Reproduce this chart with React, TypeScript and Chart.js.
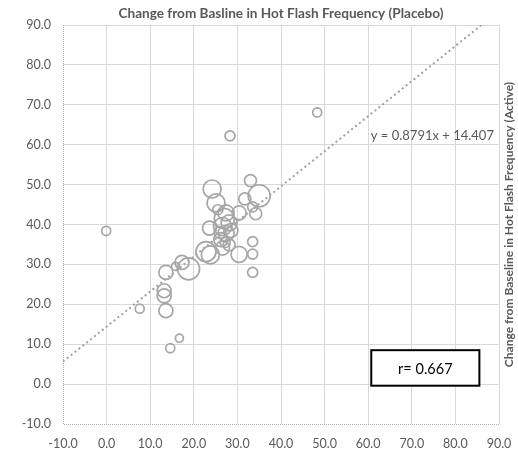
import React, { useEffect, useRef } from "react";
import { Chart, registerables } from "chart.js";

Chart.register(...registerables);

// Change from baseline in hot flash frequency
const placeboChange = [
  -0.1, 7.6, 14.6, 16.7, 13.6, 13.2, 13.2, 13.6, 15.8, 17.3,
  18.8, 22.8, 23.8, 30.4, 33.5, 33.5, 33.5, 28.3, 48.3, 33.0,
  24.2, 25.1, 31.7, 35.0, 33.5, 34.2, 30.4, 25.5, 27.4, 23.6,
  26.6, 28.1, 27.4, 26.2, 26.6, 28.1, 27.0, 26.0, 28.5, 27.2,
];
const activeChange = [
  38.4, 18.9, 9.0, 11.5, 18.4, 22.1, 23.4, 28.0, 29.5, 30.5,
  28.9, 33.2, 32.4, 32.5, 35.7, 32.6, 28.0, 62.2, 68.1, 51.0,
  48.9, 45.4, 46.4, 47.2, 44.4, 42.7, 42.9, 43.7, 42.9, 39.1,
  39.5, 40.4, 37.8, 36.2, 34.1, 34.9, 41.5, 38.0, 38.5, 35.5,
];
const bubbleSize = [
  4.5, 4.5, 4.5, 4, 7, 7, 7, 7, 4, 7,
  11, 10, 9, 8, 5, 5, 5, 5, 4.5, 6,
  9, 9, 6, 11, 5, 6, 7, 5, 8, 7,
  9, 8, 8, 7, 7, 6, 10, 6, 7, 5,
];

const axisTicks = [-10, 0, 10, 20, 30, 40, 50, 60, 70, 80, 90];
const trendSlope = 0.8791;
const trendIntercept = 14.407;
const rValue = "0.667";

const titleText = "Change from Basline in Hot Flash Frequency (Placebo)";
const yTitleText = "Change from Baseline in Hot Flash Frequency (Active)";

const FONT = "Lato, 'Open Sans', sans-serif";
const GREY_TEXT = "#595959";

export default function App() {
  const ref = useRef<HTMLCanvasElement | null>(null);

  useEffect(() => {
    if (!ref.current) return;
    const minV = axisTicks[0];
    const maxV = axisTicks[axisTicks.length - 1];
    const trendEndX = (maxV - trendIntercept) / trendSlope;
    const bubbles = placeboChange.map((x, i) => ({
      x,
      y: activeChange[i],
      r: bubbleSize[i],
    }));

    const axisLinePlugin = {
      id: "axisLines",
      beforeDatasetsDraw(chart: any) {
        const { ctx, chartArea } = chart;
        ctx.save();
        ctx.strokeStyle = "#b0b0b0";
        ctx.lineWidth = 1;
        ctx.setLineDash([1, 1]);
        ctx.beginPath();
        ctx.moveTo(chartArea.left + 0.5, chartArea.top);
        ctx.lineTo(chartArea.left + 0.5, chartArea.bottom + 0.5);
        ctx.lineTo(chartArea.right, chartArea.bottom + 0.5);
        ctx.stroke();
        ctx.restore();
      },
    };

    const textPlugin = {
      id: "texts",
      afterDraw(chart: any) {
        const { ctx, chartArea, scales } = chart;
        ctx.save();
        // top title
        ctx.fillStyle = GREY_TEXT;
        ctx.font = `bold 13.6px ${FONT}`;
        ctx.textAlign = "center";
        ctx.textBaseline = "middle";
        ctx.fillText(titleText, (chartArea.left + chartArea.right) / 2, 14);
        // right side title
        ctx.font = `bold 12px ${FONT}`;
        ctx.save();
        ctx.translate(509, (chartArea.top + chartArea.bottom) / 2);
        ctx.rotate(-Math.PI / 2);
        ctx.fillText(yTitleText, 0, 0);
        ctx.restore();
        // equation
        ctx.font = `13px ${FONT}`;
        ctx.textAlign = "left";
        const eq = `y = ${trendSlope}x + ${trendIntercept}`;
        ctx.fillText(eq, scales.x.getPixelForValue(60.6), scales.y.getPixelForValue(62.3));
        // r box
        const bx1 = scales.x.getPixelForValue(60.7);
        const bx2 = scales.x.getPixelForValue(85.5);
        const by1 = scales.y.getPixelForValue(8.5);
        const by2 = scales.y.getPixelForValue(-0.4);
        ctx.fillStyle = "#ffffff";
        ctx.fillRect(bx1, by1, bx2 - bx1, by2 - by1);
        ctx.strokeStyle = "#000000";
        ctx.lineWidth = 2;
        ctx.strokeRect(bx1, by1, bx2 - bx1, by2 - by1);
        ctx.fillStyle = "#000000";
        ctx.font = `14.5px ${FONT}`;
        ctx.textAlign = "center";
        ctx.fillText(`r= ${rValue}`, (bx1 + bx2) / 2, (by1 + by2) / 2 + 1);
        ctx.restore();
      },
    };

    const gridColor = (c: any) =>
      c.tick && c.tick.value === minV ? "rgba(0,0,0,0)" : "#d9d9d9";

    const chart = new Chart(ref.current, {
      type: "bubble",
      data: {
        datasets: [
          {
            type: "bubble",
            data: bubbles,
            borderColor: "#a6a6a6",
            backgroundColor: "rgba(0,0,0,0)",
            borderWidth: 1.7,
          } as any,
          {
            type: "line",
            data: [
              { x: minV, y: trendSlope * minV + trendIntercept },
              { x: trendEndX, y: maxV },
            ],
            borderColor: "#a0a0a0",
            borderWidth: 2,
            borderDash: [2, 3],
            pointRadius: 0,
            fill: false,
          } as any,
        ],
      },
      options: {
        responsive: false,
        animation: false,
        layout: { padding: { top: 25, right: 19, left: 0, bottom: 0 } },
        plugins: {
          legend: { display: false },
          tooltip: { enabled: false },
          title: { display: false },
        },
        scales: {
          x: {
            type: "linear",
            min: minV,
            max: maxV,
            afterBuildTicks: (s: any) => {
              s.ticks = axisTicks.map((v) => ({ value: v }));
            },
            afterFit: (s: any) => {
              s.height = 29;
            },
            ticks: {
              padding: 3,
              color: GREY_TEXT,
              font: { family: FONT, size: 12.5 },
              callback: (v: any) => Number(v).toFixed(1),
              maxRotation: 0,
            },
            grid: {
              color: gridColor,
              drawTicks: true,
              tickLength: 9,
              tickColor: "rgba(0,0,0,0)",
              lineWidth: 1,
            },
            border: { display: false },
          },
          y: {
            type: "linear",
            min: minV,
            max: maxV,
            afterBuildTicks: (s: any) => {
              s.ticks = axisTicks.map((v) => ({ value: v }));
            },
            afterFit: (s: any) => {
              s.width = 63;
            },
            ticks: {
              padding: 12,
              color: GREY_TEXT,
              font: { family: FONT, size: 12.5 },
              callback: (v: any) => Number(v).toFixed(1),
            },
            grid: { color: gridColor, drawTicks: false, lineWidth: 1 },
            border: { display: false },
          },
        },
      },
      plugins: [axisLinePlugin, textPlugin],
    });
    return () => chart.destroy();
  }, []);

  return (
    <div style={{ position: "fixed", left: 0, top: 0, width: 518, height: 453, background: "#fff" }}>
      <canvas ref={ref} width={518} height={453} />
    </div>
  );
}
